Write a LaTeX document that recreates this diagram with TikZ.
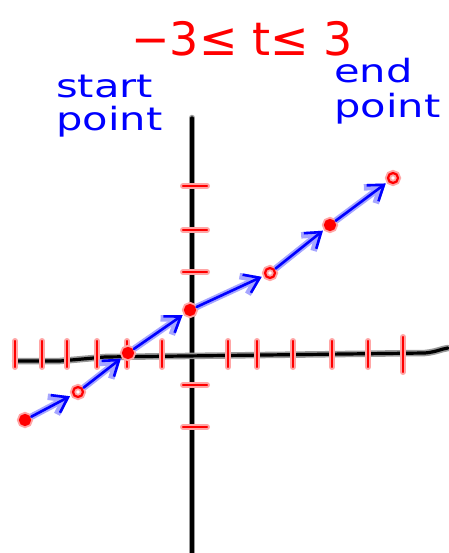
\documentclass[tikz,border=0pt]{standalone}
\usepackage{fontspec}
\setmainfont{DejaVu Sans}
\newfontfamily\ancha[FakeStretch=1.3]{DejaVu Sans}
\usetikzlibrary{arrows.meta}

\begin{document}
\begin{tikzpicture}[
    x=1pt, y=-1pt,
    axis/.style={
        draw=black,
        line width=3.2pt,
        line cap=round,
        preaction={draw=black!40, line width=6.5pt, line cap=round}
    },
    tick/.style={
        draw=red,
        line width=2.4pt,
        line cap=round,
        preaction={draw=red!35, line width=6pt, line cap=round}
    },
    punto/.style={
        circle,
        draw=red,
        line width=2.2pt,
        inner sep=0pt,
        minimum size=10pt,
        preaction={draw=red!35, line width=6pt}
    },
    lleno/.style={punto, fill=red},
    arrow/.style={
        -{Straight Barb[length=5mm, width=7mm]},
        draw=blue,
        line width=2.6pt,
        line cap=round,
        shorten >=3pt,
        shorten <=1pt,
        preaction={draw=blue!35, line width=6.5pt}
    },
    rojo/.style={text=red, inner sep=0pt, font=\fontsize{46}{48}\selectfont},
    azul/.style={text=blue, inner sep=0pt, align=left,
        font=\ancha\fontsize{32}{33}\selectfont}
]

\useasboundingbox (0,0) rectangle (448,553);

% ejes
\draw[axis] (192,118) -- (192,553);
\draw[axis] (15,361) -- (60,361) -- (105,357) -- (425,353)
    .. controls (436,352) and (441,349) .. (448,348);

% marcas
\foreach \x in {15,42,67,97,127,162,228,257,293,332,368}
    \draw[tick] (\x,341) -- (\x,367);
\draw[tick] (403,337) -- (403,372);
\foreach \y in {186,230,272,385,427}
    \draw[tick] (183,\y) -- (207,\y);

% puntos
\node[lleno] (p1) at (25,420) {};
\node[punto] (p2) at (78,392) {};
\node[lleno] (p3) at (128,353) {};
\node[lleno] (p4) at (190,310) {};
\node[punto] (p5) at (270,273) {};
\node[lleno] (p6) at (330,225) {};
\node[punto] (p7) at (393,178) {};

\draw[arrow] (p1) -- (p2);
\draw[arrow] (p2) -- (p3);
\draw[arrow] (p3) -- (p4);
\draw[arrow] (p4) -- (p5);
\draw[arrow] (p5) -- (p6);
\draw[arrow] (p6) -- (p7);

% textos
\node[rojo] (rango) at (242,39) {−3≤ t≤ 3};
\node[azul, anchor=north west] (inicio) at (56,75) {start\\point};
\node[azul, anchor=north west] (final) at (334,58) {end\\[2pt]point};

\end{tikzpicture}
\end{document}
